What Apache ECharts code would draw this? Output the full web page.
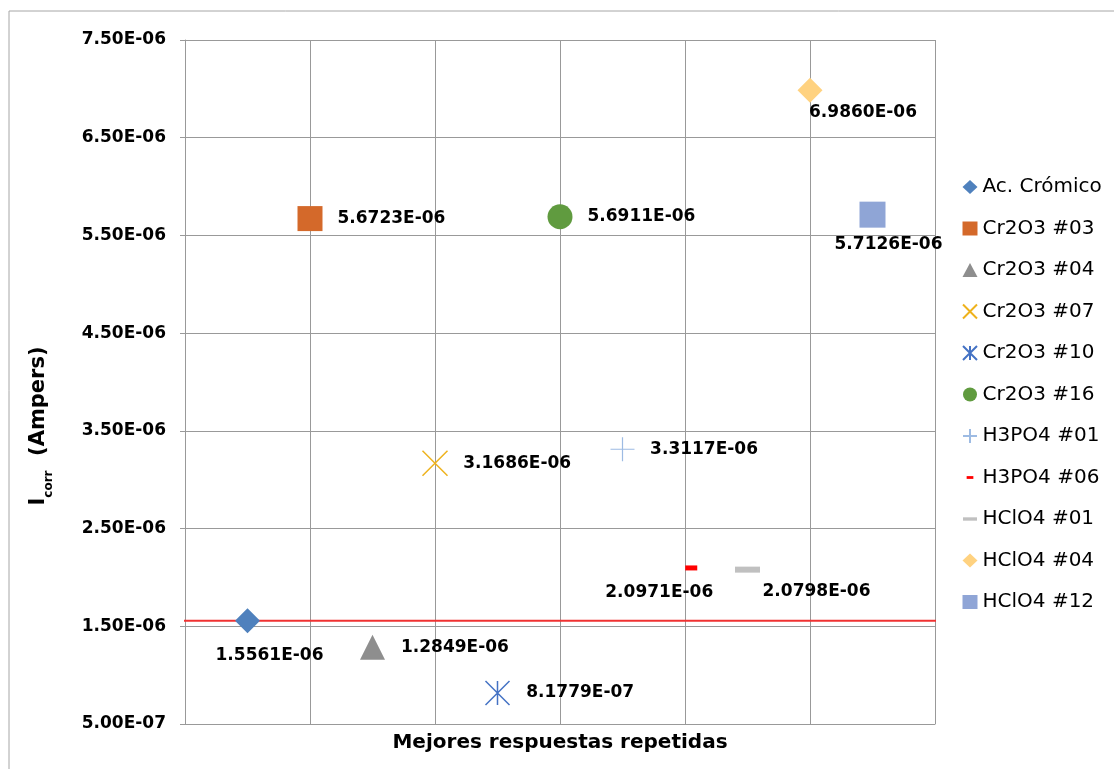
<!DOCTYPE html>
<html><head><meta charset="utf-8">
<script src="https://cdn.jsdelivr.net/npm/echarts@6/dist/echarts.min.js"></script>
<style>html,body{margin:0;padding:0;background:#fff;overflow:hidden}#c{width:1114px;height:769px}</style>
</head><body><div id="c"></div>
<script>
// ---- data ----
const seriesNames = ['Ac. Crómico','Cr2O3 #03','Cr2O3 #04','Cr2O3 #07','Cr2O3 #10','Cr2O3 #16','H3PO4 #01','H3PO4 #06','HClO4 #01','HClO4 #04','HClO4 #12'];
const xValues = [0.5, 1, 1.5, 2, 2.5, 3, 3.5, 4.05, 4.5, 5, 5.5];
const yValues = [1.5561e-6, 5.6723e-6, 1.2849e-6, 3.1686e-6, 8.1779e-7, 5.6911e-6, 3.3117e-6, 2.0971e-6, 2.0798e-6, 6.9860e-6, 5.7126e-6];
const yAxisMin = 5e-7, yAxisMax = 7.5e-6, yAxisStep = 1e-6;
const xAxisMin = 0, xAxisMax = 6, xAxisStep = 1;
const refLineValue = 1.5561e-6;
const refLineX = [-0.1, 6.08];
const xTitle = 'Mejores respuestas repetidas';

// ---- styles ----
const FONT = 'DejaVu Sans';
const styles = [
  {symbol:'diamond', size:25, color:'#4F81BD', label:{position:'inside', offset:[22,35]}},
  {symbol:'rect', size:25, color:'#D4692A', label:{position:'right', distance:15}},
  {symbol:'triangle', size:25, color:'#8E8E8E', label:{position:'right', distance:16}},
  {symbol:'path://M0,0L10,10M10,0L0,10', size:25, stroke:'#EEB21C', sw:1.5, label:{position:'right', distance:15}},
  {symbol:'path://M0,0L10,10M10,0L0,10M5,0L5,10', size:24, stroke:'#4472C4', sw:1.5, label:{position:'right', distance:16}},
  {symbol:'circle', size:25, color:'#609B3F', label:{position:'right', distance:15}},
  {symbol:'path://M5,0L5,10M0,5L10,5', size:24, stroke:'#9DBBE3', sw:1.2, label:{position:'right', distance:15}},
  {symbol:'path://M0,0M25,25M6.5,10h12v5h-12z', size:25, color:'#FF0000', label:{position:'inside', offset:[-32,25]}},
  {symbol:'path://M0,0M25,25M0,9.5h25v6h-25z', size:25, color:'#C0C0C0', label:{position:'inside', offset:[69,22]}},
  {symbol:'diamond', size:25, color:'#FFD280', label:{position:'inside', offset:[53,22]}},
  {symbol:'rect', size:26, color:'#8FA5D6', label:{position:'inside', offset:[16,30]}}
];

function sci(v, d) {
  return v.toExponential(d).toUpperCase().replace(/E([+-])(\d)$/, 'E$10$2');
}

const series = seriesNames.map((name, i) => {
  const st = styles[i];
  const itemStyle = st.stroke
    ? {color:'rgba(0,0,0,0)', borderColor: st.stroke, borderWidth: st.sw, opacity:1}
    : {color: st.color, opacity:1};
  return {
    name, type:'scatter', symbol: st.symbol, symbolSize: st.size,
    itemStyle,
    data: [[xValues[i], yValues[i]]],
    label: Object.assign({show:true, color:'#000', opacity:1, textBorderWidth:0, fontFamily:FONT, fontWeight:'bold', fontSize:17,
      formatter: p => sci(p.value[1], 4)}, st.label),
    emphasis:{disabled:true}, z: 3
  };
});
series.push({
  name:'ref', type:'line', data: refLineX.map(x => [x, refLineValue]),
  symbol:'none', clip:false, silent:true, lineStyle:{color:'#F03232', width:2}, z:2
});

const chart = echarts.init(document.getElementById('c'), null, {renderer:'canvas'});
chart.setOption({
  animation:false,
  backgroundColor:'#fff',
  graphic:[{type:'rect', shape:{x:9, y:11, width:1200, height:800}, style:{fill:'none', stroke:'#A6A6A6', lineWidth:1}, z:-1, silent:true}],
  grid:{left:185, top:40, width:750, bottom:45},
  xAxis:{type:'value', min:xAxisMin, max:xAxisMax, interval:xAxisStep,
    name:xTitle, nameLocation:'middle', nameGap:9,
    nameTextStyle:{fontFamily:FONT, fontWeight:'bold', fontSize:20, color:'#000'},
    axisLine:{show:true, onZero:false, lineStyle:{color:'#999', width:1}},
    axisTick:{show:false}, axisLabel:{show:false},
    splitLine:{show:true, lineStyle:{color:'#999', width:1}}},
  yAxis:{type:'value', min:yAxisMin, max:yAxisMax, interval:yAxisStep,
    name:'{b|I}{s|corr}{b|  (Ampers)}', nameLocation:'middle', nameGap:130,
    nameTextStyle:{padding:[0,88,0,0], rich:{
      b:{fontFamily:FONT, fontWeight:'bold', fontSize:21, color:'#000', verticalAlign:'bottom', padding:[0,0,6,0]},
      s:{fontFamily:FONT, fontWeight:'bold', fontSize:12, color:'#000', verticalAlign:'bottom'}}},
    axisLine:{show:true, lineStyle:{color:'#999', width:1}},
    axisTick:{show:true, length:5, lineStyle:{color:'#999'}},
    axisLabel:{margin:19, fontFamily:FONT, fontWeight:'bold', fontSize:17, color:'#000', formatter: v => sci(v, 2)},
    splitLine:{show:true, lineStyle:{color:'#999', width:1}}},
  legend:{orient:'vertical', left:957, top:172, itemWidth:15, itemHeight:14, itemGap:21.5,
    data: seriesNames, itemStyle:{opacity:1},
    textStyle:{fontFamily:FONT, fontSize:20, color:'#000', lineHeight:20}},
  series
});
</script></body></html>
